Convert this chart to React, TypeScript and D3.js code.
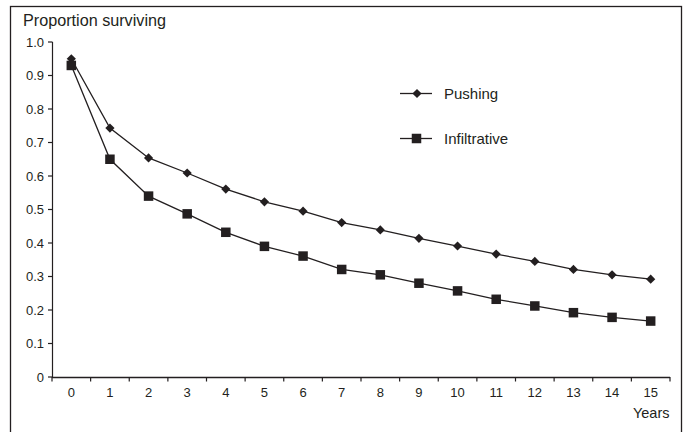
import React from "react";
import * as d3 from "d3";

const years = ["0", "1", "2", "3", "4", "5", "6", "7", "8", "9", "10", "11", "12", "13", "14", "15"];
const pushing = [0.95, 0.743, 0.654, 0.609, 0.561, 0.523, 0.495, 0.461, 0.439, 0.414, 0.391, 0.367, 0.345, 0.321, 0.305, 0.292];
const infiltrative = [0.93, 0.65, 0.54, 0.487, 0.432, 0.39, 0.361, 0.321, 0.305, 0.28, 0.257, 0.232, 0.212, 0.192, 0.178, 0.167];
const yTicks = [0, 0.1, 0.2, 0.3, 0.4, 0.5, 0.6, 0.7, 0.8, 0.9, 1.0];

const W = 686;
const H = 432;
const FONT = "'Liberation Sans', Arial, sans-serif";
const INK = "#231f20";

export default function App() {
  const x = d3.scaleBand<string>().domain(years).range([52, 670]);
  const y = d3.scaleLinear().domain([0, 1]).range([377, 42]);
  const cx = (i: number) => (x(years[i]) as number) + x.bandwidth() / 2;
  const line = d3
    .line<number>()
    .x((_, i) => cx(i))
    .y((d) => y(d));

  const diamond = (px: number, py: number, r = 4.6) =>
    `M${px},${py - r}L${px + r},${py}L${px},${py + r}L${px - r},${py}Z`;
  const square = (px: number, py: number, s = 9.5) => (
    <rect x={px - s / 2} y={py - s / 2} width={s} height={s} fill={INK} />
  );

  const xTickPos = years.map((yr) => x(yr) as number).concat([670]);

  return (
    <svg
      width={W}
      height={H}
      style={{ position: "absolute", left: 0, top: 0, background: "#fff" }}
      fontFamily={FONT}
    >
      <rect x={10.5} y={6.5} width={671} height={440} fill="none" stroke={INK} strokeWidth={1.3} />

      <text x={23} y={26} fontSize={16} fill={INK} textLength={143} lengthAdjust="spacingAndGlyphs">
        Proportion surviving
      </text>

      {/* y axis */}
      <line x1={52.5} x2={52.5} y1={y(1)} y2={y(0)} stroke={INK} strokeWidth={1.2} />
      {yTicks.map((t) => (
        <g key={t}>
          <line x1={48} x2={52.5} y1={y(t)} y2={y(t)} stroke={INK} strokeWidth={1.2} />
          <text x={44} y={y(t) + 4.8} fontSize={13} textAnchor="end" fill={INK}>
            {t === 0 ? "0" : t.toFixed(1)}
          </text>
        </g>
      ))}

      {/* x axis */}
      <line x1={52} x2={670} y1={y(0) + 0.5} y2={y(0) + 0.5} stroke={INK} strokeWidth={1.3} />
      {xTickPos.map((p, i) => (
        <line key={i} x1={p} x2={p} y1={y(0)} y2={y(0) + 4.5} stroke={INK} strokeWidth={1.2} />
      ))}
      {years.map((yr, i) => (
        <text key={yr} x={cx(i)} y={396.5} fontSize={13} textAnchor="middle" fill={INK}>
          {yr}
        </text>
      ))}
      <text x={669.5} y={417.5} fontSize={14.5} textAnchor="end" fill={INK}>
        Years
      </text>

      {/* series */}
      <path d={line(pushing) as string} fill="none" stroke={INK} strokeWidth={1.3} />
      <path d={line(infiltrative) as string} fill="none" stroke={INK} strokeWidth={1.3} />
      {pushing.map((v, i) => (
        <path key={"p" + i} d={diamond(cx(i), y(v))} fill={INK} />
      ))}
      {infiltrative.map((v, i) => (
        <g key={"f" + i}>{square(cx(i), y(v))}</g>
      ))}

      {/* legend */}
      <line x1={400} x2={432} y1={93.5} y2={93.5} stroke={INK} strokeWidth={1.3} />
      <path d={diamond(417, 93.5)} fill={INK} />
      <text x={444} y={99} fontSize={15} fill={INK}>
        Pushing
      </text>
      <line x1={400} x2={432} y1={138.5} y2={138.5} stroke={INK} strokeWidth={1.3} />
      {square(416.5, 138.5)}
      <text x={444} y={143.5} fontSize={15} fill={INK}>
        Infiltrative
      </text>
    </svg>
  );
}
